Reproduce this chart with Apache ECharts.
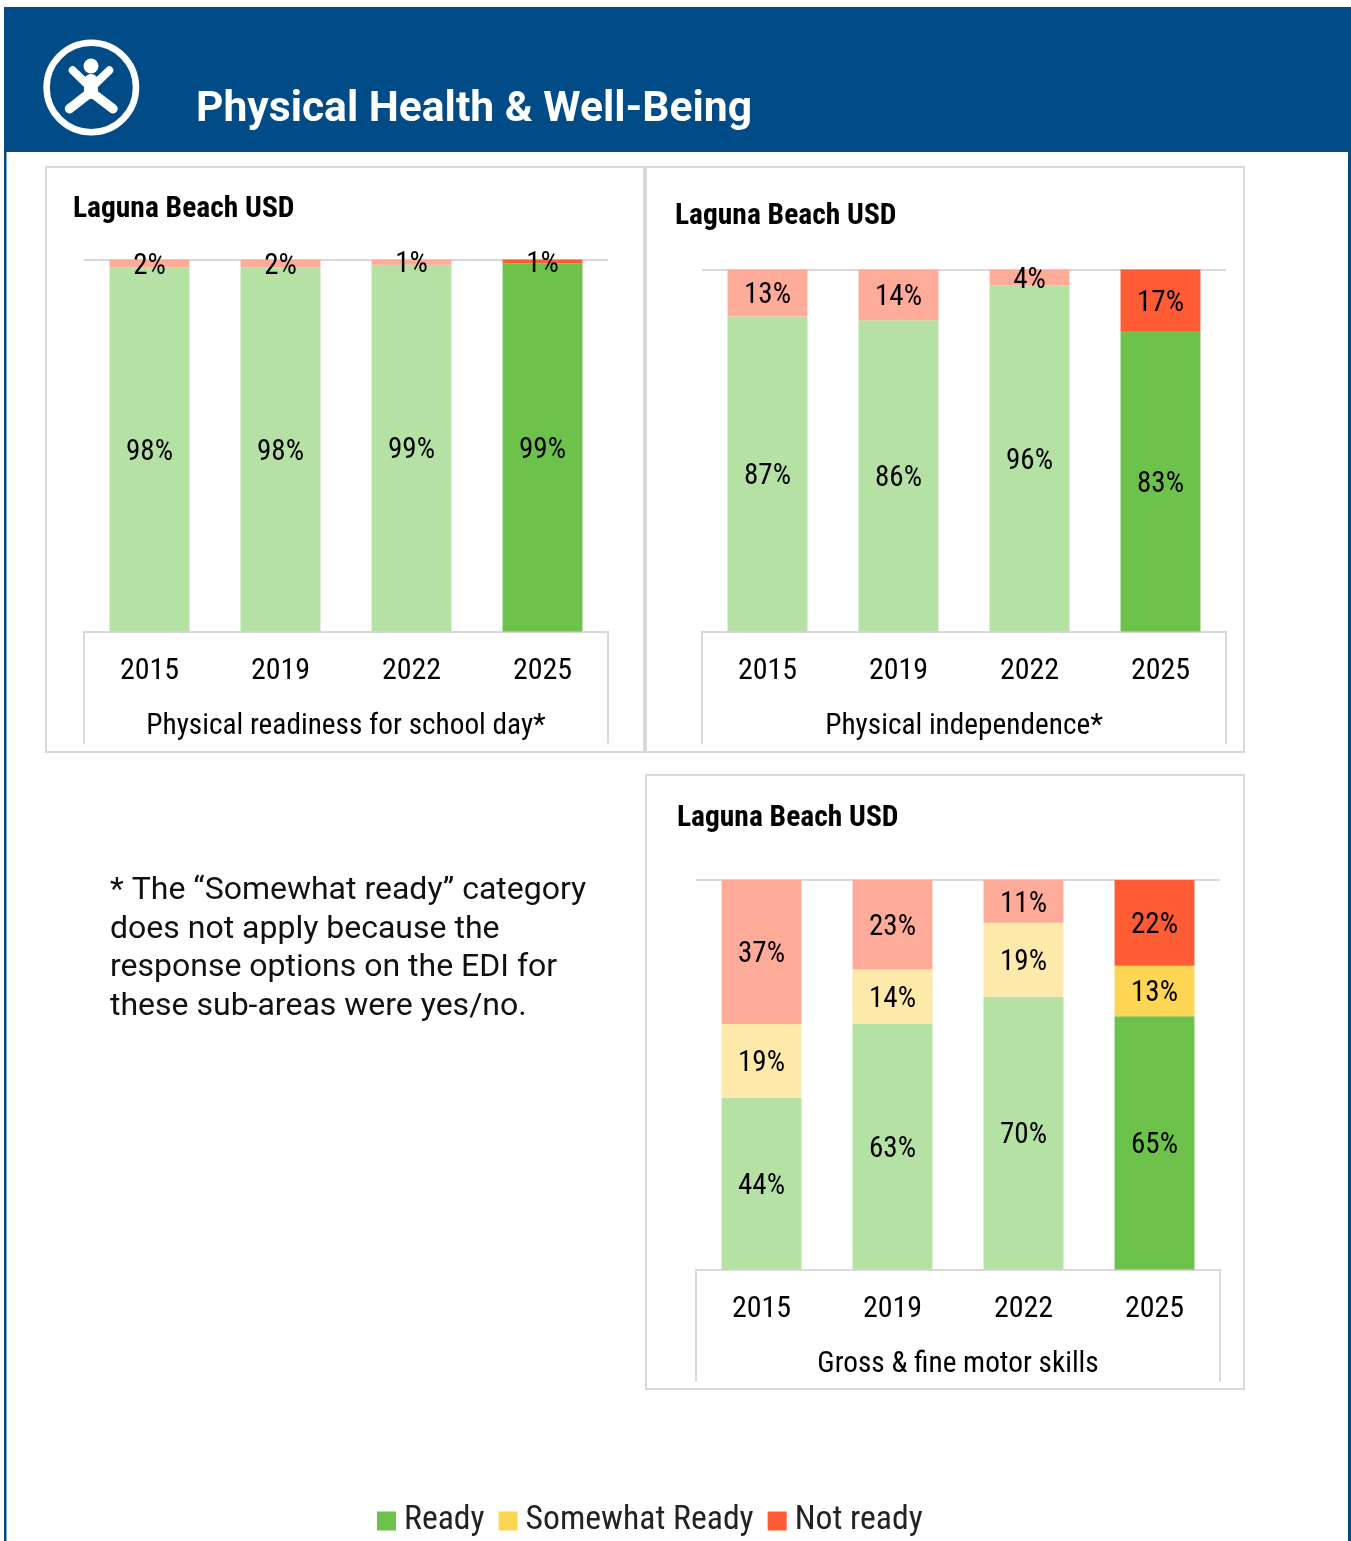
<!DOCTYPE html>
<html>
<head>
<meta charset="utf-8">
<title>Physical Health & Well-Being</title>
<style>
  html, body { margin: 0; padding: 0; background: #fff; }
  #chart { width: 1351px; height: 1541px; }
</style>
<script src="https://cdn.jsdelivr.net/npm/echarts@6/dist/echarts.min.js"></script>
</head>
<body>
<div id="chart"></div>
<script>
const years = ['2015', '2019', '2022', '2025']

// values, labels show them rounded
const readinessReady = [97.9, 97.9, 98.6, 98.9]
const readinessNotReady = [2.1, 2.1, 1.4, 1.1]
const independenceReady = [87, 86, 95.6, 83]
const independenceNotReady = [13, 14, 4.4, 17]
const motorReady = [44, 63, 70, 65]
const motorSomewhat = [19, 14, 19, 13]
const motorNotReady = [37, 23, 11, 22]

const noteLines = [
  '* The “Somewhat ready” category',
  'does not apply because the',
  'response options on the EDI for',
  'these sub-areas were yes/no.',
]

const narrow = '"Roboto Condensed"'
const lineColor = '#d9d9d9'
const colors = {
  ready: ['#b5e1a5', '#6cc24a'],
  somewhat: ['#fde9a9', '#ffd653'],
  notReady: ['#ffab99', '#ff5c35'],
}

// one entry per panel
const panels = [
  { card: [46, 167, 598, 585], titleX: 73, titleY: 210, left: 84, top: 259.5, height: 372, boxBottom: 743, name: 'Physical readiness for school day*' },
  { card: [646, 167, 598, 585], titleX: 675, titleY: 217, left: 702, top: 269.5, height: 362, boxBottom: 743, name: 'Physical independence*' },
  { card: [646, 775, 598, 614], titleX: 677, titleY: 819, left: 696, top: 880, height: 389.5, boxBottom: 1381, name: 'Gross & fine motor skills' },
]
const plotWidth = 524

// older years are drawn in the pale tint, latest year in full colour
const makeSeries = (name, values, tint, panelIndex) => ({
  name,
  type: 'bar',
  stack: 'panel' + panelIndex,
  xAxisIndex: panelIndex,
  yAxisIndex: panelIndex,
  barWidth: '61%',
  itemStyle: { color: tint[1] },
  label: {
    show: true,
    position: 'inside',
    offset: [0, 3],
    color: '#000',
    fontFamily: narrow,
    fontSize: 29,
    formatter: (p) => Math.round(p.value) + '%',
  },
  data: values.map((v, i) => ({
    value: v,
    itemStyle: { color: tint[i === values.length - 1 ? 1 : 0] },
  })),
})

const series = [
  makeSeries('Ready', readinessReady, colors.ready, 0),
  makeSeries('Not ready', readinessNotReady, colors.notReady, 0),
  makeSeries('Ready', independenceReady, colors.ready, 1),
  makeSeries('Not ready', independenceNotReady, colors.notReady, 1),
  makeSeries('Ready', motorReady, colors.ready, 2),
  makeSeries('Somewhat Ready', motorSomewhat, colors.somewhat, 2),
  makeSeries('Not ready', motorNotReady, colors.notReady, 2),
]

const line = (x1, y1, x2, y2, color, width) => ({
  type: 'line',
  shape: { x1, y1, x2, y2 },
  style: { stroke: color, lineWidth: width, lineCap: 'round' },
})

const graphics = [
  // page frame and header band
  { type: 'rect', shape: { x: 4, y: 7, width: 1347, height: 145 }, style: { fill: '#014b87' } },
  { type: 'rect', shape: { x: 4, y: 152, width: 2.5, height: 1389 }, style: { fill: '#014b87' } },
  { type: 'rect', shape: { x: 1348, y: 152, width: 3, height: 1389 }, style: { fill: '#014b87' } },
  // header icon
  { type: 'circle', shape: { cx: 91.3, cy: 87.5, r: 44.7 }, style: { fill: 'none', stroke: '#fff', lineWidth: 6.5 } },
  { type: 'circle', shape: { cx: 91, cy: 66, r: 7.5 }, style: { fill: '#fff' } },
  line(72.7, 70.3, 91, 88, '#fff', 8),
  line(109.3, 70.3, 91, 88, '#fff', 8),
  line(91, 81, 91, 92, '#fff', 14),
  line(91, 92, 69.5, 108.7, '#fff', 9.5),
  line(91, 92, 113, 108.7, '#fff', 9.5),
  {
    type: 'text',
    style: {
      x: 196, y: 110, text: 'Physical Health & Well-Being', fill: '#fff',
      font: 'bold 42.6px Roboto', verticalAlign: 'middle',
    },
  },
]

panels.forEach((p) => {
  graphics.push({
    type: 'rect',
    shape: { x: p.card[0], y: p.card[1], width: p.card[2], height: p.card[3] },
    style: { fill: 'none', stroke: lineColor, lineWidth: 2 },
  })
  graphics.push({
    type: 'text',
    style: {
      x: p.titleX, y: p.titleY, text: 'Laguna Beach USD', fill: '#000',
      font: 'bold 29.5px ' + narrow, verticalAlign: 'middle',
    },
  })
  const bottom = p.top + p.height
  graphics.push(line(p.left, bottom, p.left, p.boxBottom, lineColor, 2))
  graphics.push(line(p.left + plotWidth, bottom, p.left + plotWidth, p.boxBottom, lineColor, 2))
})

noteLines.forEach((text, i) => {
  graphics.push({
    type: 'text',
    style: {
      x: 110, y: 891 + i * 38.7, text, fill: '#111',
      font: '32px Roboto', verticalAlign: 'middle',
    },
  })
})

const chart = echarts.init(document.getElementById('chart'))
chart.setOption({
  animation: false,
  backgroundColor: '#fff',
  textStyle: { fontFamily: narrow },
  grid: panels.map((p) => ({ left: p.left, top: p.top, width: plotWidth, height: p.height })),
  xAxis: panels.map((p, i) => ({
    type: 'category',
    gridIndex: i,
    data: years,
    name: p.name,
    nameLocation: 'middle',
    nameGap: 81,
    nameTextStyle: { color: '#000', fontFamily: narrow, fontSize: 29.3 },
    axisTick: { show: false },
    axisLine: { lineStyle: { color: lineColor, width: 2 } },
    axisLabel: { color: '#000', fontFamily: narrow, fontSize: 30, margin: 25 },
  })),
  yAxis: panels.map((p, i) => ({
    type: 'value',
    gridIndex: i,
    min: 0,
    max: 100,
    interval: 100,
    axisLabel: { show: false },
    axisLine: { show: false },
    axisTick: { show: false },
    splitLine: { lineStyle: { color: lineColor, width: 2 } },
  })),
  legend: {
    left: 377,
    top: 1504,
    padding: 0,
    icon: 'rect',
    itemWidth: 19,
    itemHeight: 19,
    itemGap: 14,
    selectedMode: false,
    data: ['Ready', 'Somewhat Ready', 'Not ready'],
    textStyle: { color: '#222', fontFamily: narrow, fontSize: 33.7, padding: [0, 0, 0, 3] },
  },
  graphic: graphics,
  series,
})
window.addEventListener('resize', () => chart.resize())
</script>
</body>
</html>
